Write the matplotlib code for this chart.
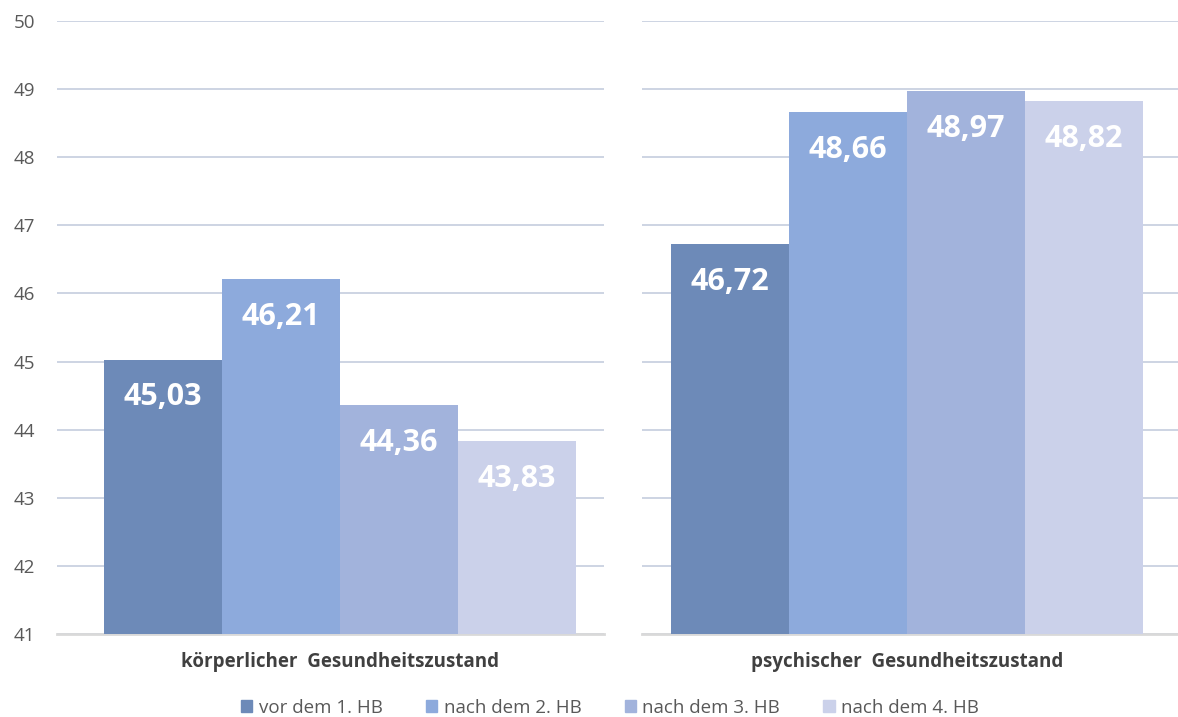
import matplotlib.pyplot as plt
import numpy as np

plt.rcParams["font.family"] = ["Open Sans", "DejaVu Sans"]

# Data
groups = ["körperlicher  Gesundheitszustand", "psychischer  Gesundheitszustand"]
series = ["vor dem 1. HB", "nach dem 2. HB", "nach dem 3. HB", "nach dem 4. HB"]
koerper = [45.03, 46.21, 44.36, 43.83]
psyche = [46.72, 48.66, 48.97, 48.82]
yticks = [41, 42, 43, 44, 45, 46, 47, 48, 49, 50]

COLORS = ["#6D8AB8", "#8DAADC", "#A2B3DC", "#CBD1EA"]
GRID_C = "#C9D1E0"
TEXT_C = "#595959"

W, H = 1178, 717
fig = plt.figure(figsize=(W / 100, H / 100), dpi=100)

bottom = 1 - 634 / H
height = (634 - 21) / H
ax_l = fig.add_axes([57 / W, bottom, (604 - 57) / W, height])
ax_r = fig.add_axes([642 / W, bottom, (1178 - 642) / W, height])

x = np.arange(4)
for ax, vals, name, xl in [
    (ax_l, koerper, groups[0], (-0.898, 3.738)),
    (ax_r, psyche, groups[1], (-0.746, 3.797)),
]:
    bars = ax.bar(x, np.array(vals) - 41, bottom=41, width=1.0, color=COLORS,
                  zorder=2, label=None)
    for b, v in zip(bars, vals):
        ax.annotate(f"{v:.2f}".replace(".", ","),
                    (b.get_x() + b.get_width() / 2, v),
                    xytext=(0, -27), textcoords="offset points",
                    ha="center", va="center", color="white",
                    fontsize=22, fontweight="bold", zorder=3)
    ax.set_ylim(41, 50)
    ax.set_xlim(*xl)
    ax.set_yticks(yticks)
    ax.grid(axis="y", color=GRID_C, lw=1.3, zorder=0)
    ax.set_axisbelow(True)
    for s in ["top", "right", "left"]:
        ax.spines[s].set_visible(False)
    ax.spines["bottom"].set_color("#D9D9D9")
    ax.spines["bottom"].set_linewidth(2)
    ax.spines["bottom"].set_zorder(1)
    ax.set_xticks([1.5])
    ax.set_xticklabels([name], fontsize=13.5, fontweight="bold", color="#404040")
    ax.tick_params(axis="x", length=0, pad=13)
    ax.tick_params(axis="y", length=0, pad=16, labelsize=13.5, labelcolor=TEXT_C)

ax_r.set_yticklabels([])

handles = [plt.Rectangle((0, 0), 1, 1, color=c) for c in COLORS]
fig.legend(handles, series, loc="center", bbox_to_anchor=(610 / W, 1 - 708 / H),
           ncol=4, frameon=False, fontsize=13.5, labelcolor=TEXT_C,
           handlelength=0.6, handleheight=0.6, handletextpad=0.35,
           columnspacing=2.3)

fig.savefig("out.png", dpi=100)
